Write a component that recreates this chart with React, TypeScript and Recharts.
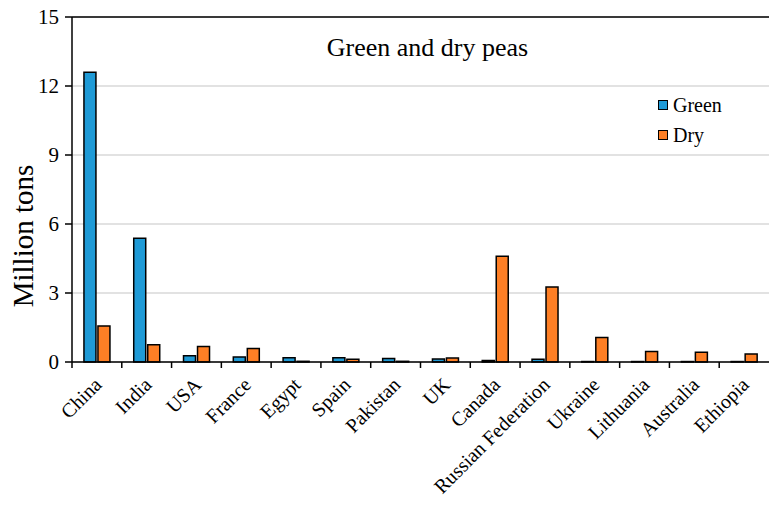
import React from "react";
import { BarChart, Bar, XAxis, YAxis, CartesianGrid, ReferenceLine, Legend, Label } from "recharts";

const countries = [
  "China", "India", "USA", "France", "Egypt", "Spain", "Pakistan",
  "UK", "Canada", "Russian Federation", "Ukraine", "Lithuania", "Australia", "Ethiopia",
];
const greenPeas = [12.6, 5.38, 0.27, 0.22, 0.18, 0.19, 0.15, 0.13, 0.07, 0.12, 0.02, 0.02, 0.02, 0.02];
const dryPeas = [1.57, 0.75, 0.67, 0.59, 0.03, 0.12, 0.03, 0.17, 4.6, 3.26, 1.07, 0.46, 0.42, 0.35];
const yTicks = [0, 3, 6, 9, 12, 15];

const data = countries.map((country, i) => ({ country, green: greenPeas[i], dry: dryPeas[i] }));

const BLUE = "#1f9ad6";
const ORANGE = "#fe7f25";
const FONT = "'Liberation Serif', 'Times New Roman', Times, serif";

const W = 779;
const H = 505;
const PLOT_LEFT = 72;
const PLOT_RIGHT = 769;
const PLOT_TOP = 17;
const PLOT_BOTTOM = 362;
const band = (PLOT_RIGHT - PLOT_LEFT) / countries.length;

// tick marks sit on the category boundaries, labels hang off the centre at -45°
function CountryTick(props: any) {
  const { x, y, payload } = props;
  const tx = x + 6;
  const ty = y + 24;
  return (
    <g>
      <line x1={x - band / 2} x2={x - band / 2} y1={y} y2={y + 6} stroke="#000" strokeWidth={1.5} />
      <text
        x={tx}
        y={ty}
        textAnchor="end"
        fill="#000"
        style={{ fontFamily: FONT, fontSize: 20 }}
        transform={`rotate(-45, ${tx}, ${ty})`}
      >
        {payload.value}
      </text>
    </g>
  );
}

function ValueTick(props: any) {
  const { x, y, payload } = props;
  return (
    <text x={x} y={y} dy={7} textAnchor="end" fill="#000" style={{ fontFamily: FONT, fontSize: 21 }}>
      {payload.value}
    </text>
  );
}

function LegendBox() {
  const items = [
    { label: "Green", color: BLUE },
    { label: "Dry", color: ORANGE },
  ];
  return (
    <div style={{ fontFamily: FONT, fontSize: 20, color: "#000", lineHeight: "30px" }}>
      {items.map((it) => (
        <div key={it.label} style={{ display: "flex", alignItems: "center", height: 30 }}>
          <span
            style={{
              display: "inline-block",
              width: 8,
              height: 8,
              background: it.color,
              border: "1.5px solid #000",
              marginRight: 5,
            }}
          />
          <span style={{ fontFamily: FONT }}>{it.label}</span>
        </div>
      ))}
    </div>
  );
}

export default function App() {
  return (
    <div style={{ position: "absolute", left: 0, top: 0, width: W, height: H, background: "#fff", fontFamily: FONT }}>
      <div
        style={{
          position: "absolute",
          left: 0,
          width: 855,
          top: 33,
          textAlign: "center",
          fontSize: 26,
          color: "#000",
          zIndex: 2,
        }}
      >
        Green and dry peas
      </div>
      <BarChart
        width={W}
        height={H}
        data={data}
        margin={{ top: PLOT_TOP, right: W - PLOT_RIGHT, left: 0, bottom: 0 }}
        barCategoryGap="24%"
        barGap={2}
        style={{ fontFamily: FONT }}
      >
        <CartesianGrid vertical={false} stroke="#d9d9d9" strokeWidth={1.5} />
        <ReferenceLine y={15} stroke="#000" strokeWidth={1.5} />
        <XAxis
          dataKey="country"
          height={H - PLOT_BOTTOM}
          interval={0}
          tickLine={false}
          tickSize={0}
          tickMargin={0}
          axisLine={{ stroke: "#000", strokeWidth: 1.5 }}
          tick={<CountryTick />}
        />
        <YAxis
          width={PLOT_LEFT}
          domain={[0, 15]}
          ticks={yTicks}
          interval={0}
          tickSize={7}
          tickMargin={6}
          axisLine={{ stroke: "#000", strokeWidth: 1.5 }}
          tickLine={{ stroke: "#000", strokeWidth: 1.5 }}
          tick={<ValueTick />}
        >
          <Label
            content={() => (
              <text
                x={0}
                y={0}
                transform="translate(33, 236) rotate(-90)"
                textAnchor="middle"
                fill="#000"
                style={{ fontFamily: FONT, fontSize: 29 }}
              >
                Million tons
              </text>
            )}
          />
        </YAxis>
        <YAxis
          yAxisId="frame"
          orientation="right"
          width={0}
          domain={[0, 15]}
          tick={false}
          tickLine={false}
          axisLine={{ stroke: "#000", strokeWidth: 1.5 }}
        />
        <Legend
          layout="vertical"
          align="center"
          verticalAlign="middle"
          wrapperStyle={{ left: 658, top: 90, width: "auto" }}
          content={() => <LegendBox />}
        />
        <Bar dataKey="green" name="Green" fill={BLUE} stroke="#000" strokeWidth={1.5} isAnimationActive={false} />
        <Bar dataKey="dry" name="Dry" fill={ORANGE} stroke="#000" strokeWidth={1.5} isAnimationActive={false} />
      </BarChart>
    </div>
  );
}
